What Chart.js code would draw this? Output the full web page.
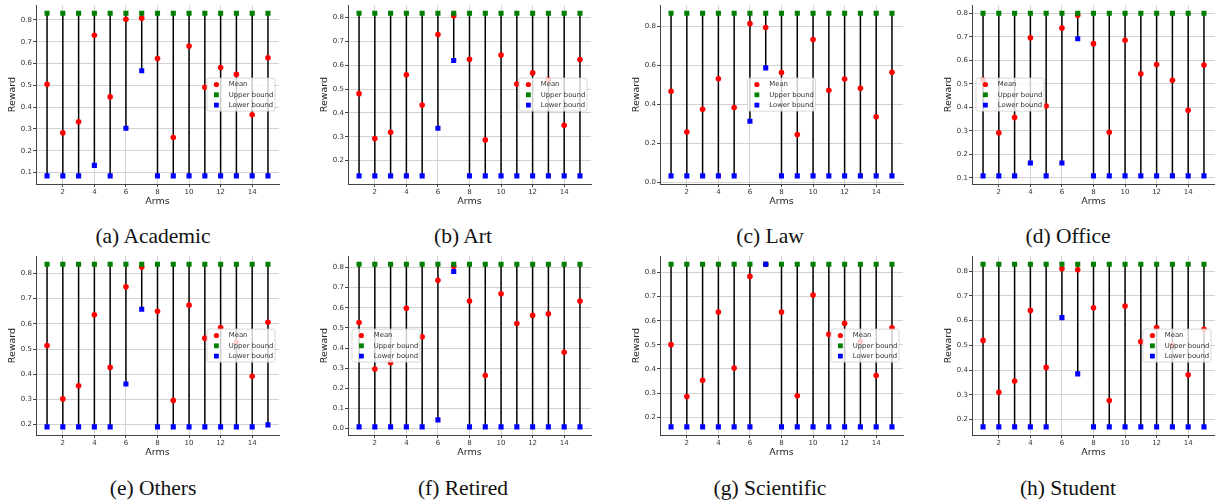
<!DOCTYPE html>
<html>
<head>
<meta charset="utf-8">
<script src="https://cdn.jsdelivr.net/npm/chart.js@4.4.0/dist/chart.umd.min.js"></script>
<style>
  body { margin: 0; width: 1215px; height: 504px; background: #fff; overflow: hidden; position: relative; }
  canvas { position: absolute; }
  .cap { position: absolute; width: 240px; text-align: center; font-family: "Liberation Serif", serif; font-size: 21.5px; line-height: 21px; color: #111; }
</style>
</head>
<body>
<script>
const arms = [1, 2, 3, 4, 5, 6, 7, 8, 9, 10, 11, 12, 13, 14, 15]

const academicMean  = [0.505, 0.282, 0.333, 0.729, 0.447, 0.803, 0.808, 0.623, 0.261, 0.680, 0.491, 0.582, 0.550, 0.365, 0.626]
const academicUpper = [0.830, 0.830, 0.830, 0.830, 0.830, 0.830, 0.830, 0.830, 0.830, 0.830, 0.830, 0.830, 0.830, 0.830, 0.830]
const academicLower = [0.085, 0.085, 0.085, 0.133, 0.085, 0.303, 0.567, 0.085, 0.085, 0.085, 0.085, 0.085, 0.085, 0.085, 0.085]

const artMean  = [0.481, 0.293, 0.319, 0.560, 0.433, 0.729, 0.808, 0.625, 0.287, 0.643, 0.521, 0.568, 0.539, 0.348, 0.624]
const artUpper = [0.818, 0.818, 0.818, 0.818, 0.818, 0.818, 0.818, 0.818, 0.818, 0.818, 0.818, 0.818, 0.818, 0.818, 0.818]
const artLower = [0.136, 0.136, 0.136, 0.136, 0.136, 0.336, 0.620, 0.136, 0.136, 0.136, 0.136, 0.136, 0.136, 0.136, 0.136]

const lawMean  = [0.468, 0.259, 0.376, 0.532, 0.385, 0.815, 0.795, 0.564, 0.246, 0.734, 0.473, 0.531, 0.483, 0.337, 0.566]
const lawUpper = [0.868, 0.868, 0.868, 0.868, 0.868, 0.868, 0.868, 0.868, 0.868, 0.868, 0.868, 0.868, 0.868, 0.868, 0.868]
const lawLower = [0.034, 0.034, 0.034, 0.034, 0.034, 0.314, 0.588, 0.034, 0.034, 0.034, 0.034, 0.034, 0.034, 0.034, 0.034]

const officeMean  = [0.516, 0.291, 0.357, 0.696, 0.405, 0.737, 0.792, 0.671, 0.294, 0.685, 0.543, 0.582, 0.515, 0.387, 0.580]
const officeUpper = [0.800, 0.800, 0.800, 0.800, 0.800, 0.800, 0.800, 0.800, 0.800, 0.800, 0.800, 0.800, 0.800, 0.800, 0.800]
const officeLower = [0.108, 0.108, 0.108, 0.163, 0.108, 0.163, 0.692, 0.108, 0.108, 0.108, 0.108, 0.108, 0.108, 0.108, 0.108]

const othersMean  = [0.514, 0.302, 0.354, 0.636, 0.427, 0.747, 0.825, 0.650, 0.296, 0.674, 0.543, 0.585, 0.527, 0.392, 0.606]
const othersUpper = [0.836, 0.836, 0.836, 0.836, 0.836, 0.836, 0.836, 0.836, 0.836, 0.836, 0.836, 0.836, 0.836, 0.836, 0.836]
const othersLower = [0.191, 0.191, 0.191, 0.191, 0.191, 0.361, 0.658, 0.191, 0.191, 0.191, 0.191, 0.191, 0.191, 0.191, 0.199]

const retiredMean  = [0.527, 0.296, 0.327, 0.598, 0.456, 0.737, 0.806, 0.634, 0.263, 0.670, 0.522, 0.562, 0.570, 0.379, 0.634]
const retiredUpper = [0.816, 0.816, 0.816, 0.816, 0.816, 0.816, 0.816, 0.816, 0.816, 0.816, 0.816, 0.816, 0.816, 0.816, 0.816]
const retiredLower = [0.008, 0.008, 0.008, 0.008, 0.008, 0.043, 0.780, 0.008, 0.008, 0.008, 0.008, 0.008, 0.008, 0.008, 0.008]

const scientificMean  = [0.501, 0.286, 0.353, 0.636, 0.404, 0.784, 0.834, 0.636, 0.289, 0.707, 0.544, 0.589, 0.514, 0.373, 0.571]
const scientificUpper = [0.834, 0.834, 0.834, 0.834, 0.834, 0.834, 0.834, 0.834, 0.834, 0.834, 0.834, 0.834, 0.834, 0.834, 0.834]
const scientificLower = [0.160, 0.160, 0.160, 0.160, 0.160, 0.160, 0.834, 0.160, 0.160, 0.160, 0.160, 0.160, 0.160, 0.160, 0.160]

const studentMean  = [0.520, 0.311, 0.356, 0.641, 0.411, 0.809, 0.805, 0.652, 0.277, 0.659, 0.515, 0.572, 0.501, 0.381, 0.565]
const studentUpper = [0.827, 0.827, 0.827, 0.827, 0.827, 0.827, 0.827, 0.827, 0.827, 0.827, 0.827, 0.827, 0.827, 0.827, 0.827]
const studentLower = [0.171, 0.171, 0.171, 0.171, 0.171, 0.612, 0.385, 0.171, 0.171, 0.171, 0.171, 0.171, 0.171, 0.171, 0.171]

const captions = ['(a) Academic', '(b) Art', '(c) Law', '(d) Office', '(e) Others', '(f) Retired', '(g) Scientific', '(h) Student']
const seriesLabels = ['Mean', 'Upper bound', 'Lower bound']

// panel layout: data, legend spot, y tick step
const panels = [
  [academicMean, academicUpper, academicLower, 'right', 0.1],
  [artMean, artUpper, artLower, 'right', 0.1],
  [lawMean, lawUpper, lawLower, 'center', 0.2],
  [officeMean, officeUpper, officeLower, 'left', 0.1],
  [othersMean, othersUpper, othersLower, 'right', 0.1],
  [retiredMean, retiredUpper, retiredLower, 'left', 0.1],
  [scientificMean, scientificUpper, scientificLower, 'right', 0.1],
  [studentMean, studentUpper, studentLower, 'right', 0.1]
]
const capCenters = [153, 463, 770, 1068]

const legendBox = {
  id: 'legendBox',
  afterDatasetsDraw(chart, args, opts) {
    const ctx = chart.ctx, a = chart.chartArea
    const w = 68, h = 33
    let x = a.right - 4 - w
    if (opts.loc == 'left') x = a.left + 4
    if (opts.loc == 'center') x = (a.left + a.right - w) / 2
    const y = (a.top + a.bottom - h) / 2
    ctx.save()
    ctx.fillStyle = 'rgba(255,255,255,0.8)'
    ctx.strokeStyle = '#cfcfcf'
    ctx.lineWidth = 0.8
    ctx.beginPath()
    ctx.roundRect(x, y, w, h, 2)
    ctx.fill()
    ctx.stroke()
    ctx.font = '6.9px "DejaVu Sans"'
    ctx.textBaseline = 'middle'
    for (let i = 0; i < 3; i++) {
      const ds = chart.data.datasets[i]
      const my = y + 6.4 + i * 10.3
      const mx = x + 9.4
      ctx.fillStyle = ds.backgroundColor
      ctx.beginPath()
      if (ds.pointStyle == 'circle') ctx.arc(mx, my, 2.6, 0, Math.PI * 2)
      else ctx.rect(mx - 2.4, my - 2.4, 4.8, 4.8)
      ctx.fill()
      ctx.fillStyle = '#333'
      ctx.fillText(ds.label, x + 21.7, my)
    }
    ctx.restore()
  }
}

panels.forEach((p, k) => {
  const [mean, upper, lower, loc, step] = p
  const col = k % 4, row = Math.floor(k / 4)
  const c = document.createElement('canvas')
  c.width = 283
  c.height = 216
  c.style.left = (col * 312) + 'px'
  c.style.top = (row * 251) + 'px'
  document.body.appendChild(c)

  const cap = document.createElement('div')
  cap.className = 'cap'
  cap.textContent = captions[k]
  cap.style.left = (capCenters[col] - 120) + 'px'
  cap.style.top = (226 + row * 252) + 'px'
  document.body.appendChild(cap)

  const lo = Math.min(...lower), hi = Math.max(...upper)
  const m = (hi - lo) * 0.05
  const pts = vals => arms.map((a, i) => ({x: a, y: vals[i]}))

  new Chart(c, {
    type: 'scatter',
    data: {
      datasets: [
        {label: seriesLabels[0], data: pts(mean), pointStyle: 'circle', pointRadius: 2.8, backgroundColor: '#ff0000', borderWidth: 0, order: 2},
        {label: seriesLabels[1], data: pts(upper), pointStyle: 'rect', pointRadius: 3.6, backgroundColor: '#008000', borderWidth: 0, order: 1},
        {label: seriesLabels[2], data: pts(lower), pointStyle: 'rect', pointRadius: 3.6, backgroundColor: '#0000ff', borderWidth: 0, order: 0},
        {type: 'bar', label: 'range', data: arms.map((a, i) => ({x: a, y: [lower[i], upper[i]]})),
         backgroundColor: '#000000', barThickness: 1.5, inflateAmount: 0, borderWidth: 0, order: 3}
      ]
    },
    options: {
      responsive: false,
      animation: false,
      events: [],
      layout: {padding: {top: 3, right: 4, left: 0, bottom: 0}},
      plugins: {
        legend: {display: false},
        tooltip: {enabled: false},
        legendBox: {loc: loc}
      },
      scales: {
        x: {
          type: 'linear', min: 0.3, max: 15.7, offset: false,
          grid: {color: '#d3d3d3', lineWidth: 1, tickLength: 3, tickColor: '#444', offset: false},
          border: {color: '#444', width: 1},
          ticks: {stepSize: 2, includeBounds: false, padding: 1, color: '#333', font: {family: 'DejaVu Sans', size: 7},
                  callback: v => String(v)},
          title: {display: true, text: 'Arms', color: '#222', font: {family: 'DejaVu Sans', size: 9.5}, padding: {top: 0, bottom: 8.3}},
          afterFit: s => { s.height = 32 }
        },
        y: {
          min: lo - m, max: hi + m,
          grid: {color: '#d3d3d3', lineWidth: 1, tickLength: 3, tickColor: '#444'},
          border: {color: '#444', width: 1},
          ticks: {stepSize: step, includeBounds: false, padding: 1, color: '#333', font: {family: 'DejaVu Sans', size: 7},
                  callback: v => v.toFixed(1)},
          title: {display: true, text: 'Reward', color: '#222', font: {family: 'DejaVu Sans', size: 9.5}, padding: {top: 7.3, bottom: 0}},
          afterFit: s => { s.width = 36 }
        }
      }
    },
    plugins: [legendBox]
  })
})
</script>
</body>
</html>
